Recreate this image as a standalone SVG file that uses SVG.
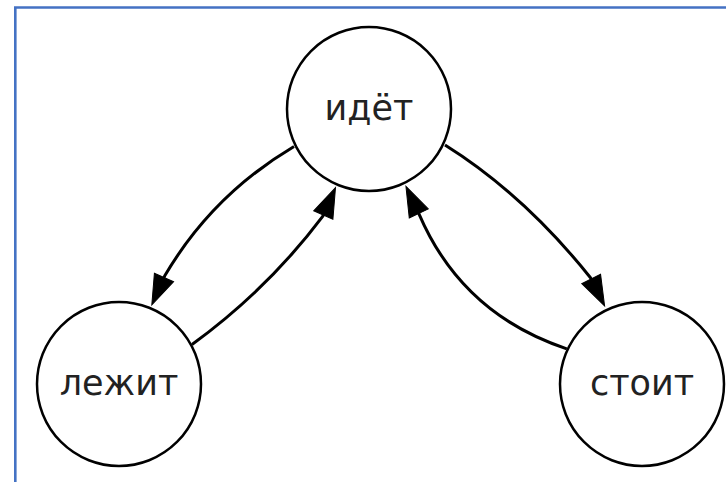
<svg xmlns="http://www.w3.org/2000/svg" width="726" height="482" viewBox="0 0 726 482">
<style>
.frame{fill:none;stroke:#4472C4;stroke-width:2.6}
.node circle{fill:#fff;stroke:#000;stroke-width:2.5}
.node text{font-family:"DejaVu Sans",sans-serif;font-size:35px;fill:#222;text-anchor:middle}
.edge{fill:none;stroke:#000;stroke-width:3;marker-end:url(#arrow)}
</style>
<defs>
<marker id="arrow" markerUnits="userSpaceOnUse" markerWidth="34" markerHeight="26" refX="0.5" refY="11" orient="auto" overflow="visible">
<path d="M0,0.5 L30,11 L0,21.5 z" fill="#000" stroke="#000" stroke-width="1"/>
</marker>
</defs>
<rect width="726" height="482" fill="#fff"/>
<path class="frame" d="M15.3,482 V7.5 H726"/>
<g id="connectors">
<path class="edge" d="M294,146.5 Q211.9,195.3 164.6,276.1 L163.8,277.9"/>
<path class="edge" d="M192,344.5 Q267.6,289.5 322.7,216.4 L323.5,214.6"/>
<path class="edge" d="M445,145 Q523.8,194.3 590.5,277.7 L591.4,279.5"/>
<path class="edge" d="M566.8,348.8 Q462.3,314.1 419.4,214.8 L418.55,213"/>
</g>
<g id="node-idet" class="node">
<circle cx="369" cy="109" r="82"/>
<text x="369" y="119.5">идёт</text>
</g>
<g id="node-lezhit" class="node">
<circle cx="119" cy="384" r="82"/>
<text x="119" y="394.5">лежит</text>
</g>
<g id="node-stoit" class="node">
<circle cx="642" cy="384" r="82"/>
<text x="642" y="394.5">стоит</text>
</g>
</svg>
